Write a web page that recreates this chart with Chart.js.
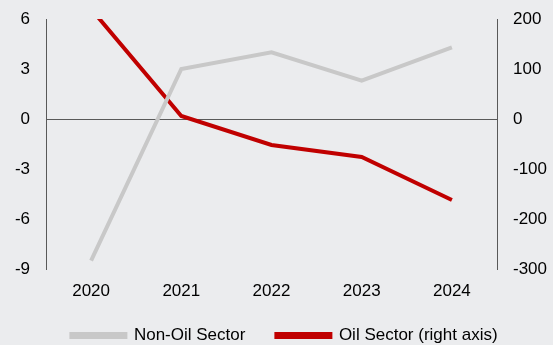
<!DOCTYPE html>
<html>
<head>
<meta charset="utf-8">
<script src="https://cdn.jsdelivr.net/npm/chart.js@4/dist/chart.umd.min.js"></script>
<style>
  html, body { margin: 0; padding: 0; background: #ebecee; }
  #wrap { width: 553px; height: 345px; }
</style>
</head>
<body>
<div id="wrap"><canvas id="chart1" width="553" height="345"></canvas></div>
<script>
// Data
const years = ['2020', '2021', '2022', '2023', '2024'];
const nonOil = [-8.5, 3.0, 4.0, 2.3, 4.3];
const oil = [220, 6, -52, -76, -162];
const leftTicks = [-9, -6, -3, 0, 3, 6];
const rightTicks = [-300, -200, -100, 0, 100, 200];

const axisColor = '#595959';
const font = { family: 'Liberation Sans, Arial, sans-serif', size: 17 };

// legend in the source sits a little right of centre
const legendShift = {
    id: 'legendShift',
    afterLayout(chart) {
        chart.legend.left += 8;
        chart.legend.right += 8;
    }
};

const ctx = document.getElementById('chart1').getContext('2d');
new Chart(ctx, {
    type: 'line',
    data: {
        labels: years,
        datasets: [{
            label: 'Non-Oil Sector',
            data: nonOil,
            yAxisID: 'y',
            borderColor: '#c8c8c8',
            backgroundColor: '#c8c8c8',
            borderWidth: 4,
            pointRadius: 0,
            tension: 0
        }, {
            label: 'Oil Sector (right axis)',
            data: oil,
            yAxisID: 'y1',
            borderColor: '#c00000',
            backgroundColor: '#c00000',
            borderWidth: 4,
            pointRadius: 0,
            tension: 0
        }]
    },
    plugins: [legendShift],
    options: {
        responsive: false,
        animation: false,
        layout: { padding: { top: 19, bottom: -9 } },
        plugins: {
            tooltip: { enabled: false },
            legend: {
                position: 'bottom',
                labels: {
                    color: '#000',
                    font: font,
                    boxWidth: 54,
                    boxHeight: 3,
                    padding: 31
                }
            }
        },
        scales: {
            x: {
                offset: true,
                afterFit: axis => { axis.height = 27; },
                grid: { display: false },
                border: { display: false },
                ticks: { color: '#000', font: font, padding: 4 }
            },
            y: {
                position: 'left',
                min: -9,
                max: 6,
                afterBuildTicks: axis => { axis.ticks = leftTicks.map(v => ({ value: v })); },
                afterFit: axis => { axis.width = 46; axis.paddingTop = 0; axis.paddingBottom = 0; },
                border: { display: true, color: axisColor, width: 1 },
                grid: {
                    drawTicks: false,
                    color: c => c.tick && c.tick.value === 0 ? axisColor : 'rgba(0,0,0,0)'
                },
                ticks: { color: '#000', font: font, padding: 16 }
            },
            y1: {
                position: 'right',
                min: -300,
                max: 200,
                afterBuildTicks: axis => { axis.ticks = rightTicks.map(v => ({ value: v })); },
                afterFit: axis => { axis.width = 56; axis.paddingTop = 0; axis.paddingBottom = 0; },
                border: { display: true, color: axisColor, width: 1 },
                grid: { display: false, drawTicks: false },
                ticks: { color: '#000', font: font, padding: 16 }
            }
        }
    }
});
</script>
</body>
</html>
